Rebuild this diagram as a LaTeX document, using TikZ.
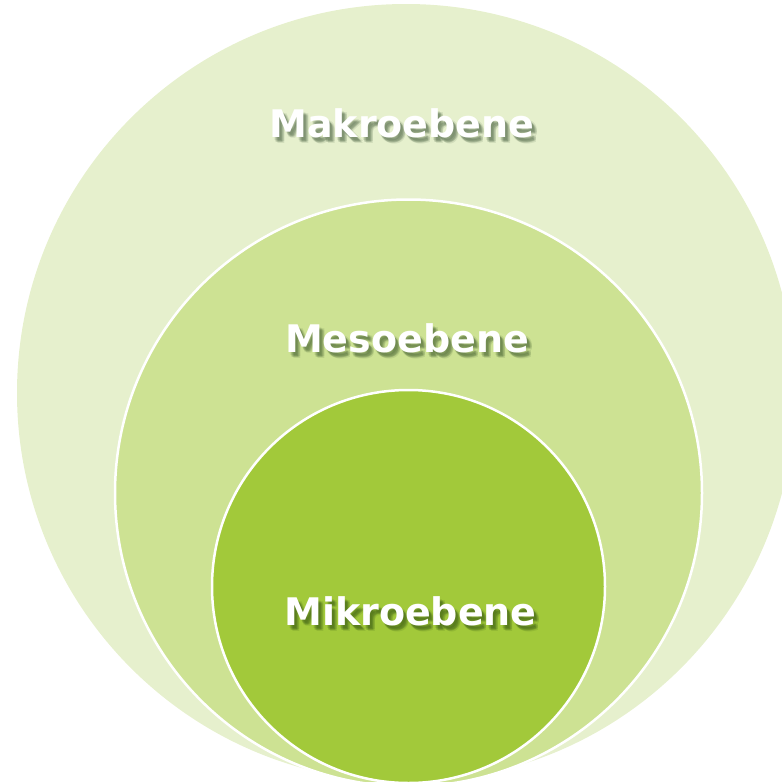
\documentclass[tikz,border=0pt]{standalone}
\usepackage{fontspec}
\newfontfamily\labfont{DejaVu Sans}[BoldFont={DejaVu Sans Bold}]
\definecolor{outerc}{HTML}{E6F0CD}
\definecolor{midc}{HTML}{CDE293}
\definecolor{innerc}{HTML}{A2C93A}
\newcommand{\lvltext}[1]{{\fontsize{38}{38}\labfont\bfseries #1}}
\tikzset{
  lvl/.style={anchor=base, inner sep=0pt, text=white},
  shad/.style={anchor=base, inner sep=0pt, text=black!60!green!30!black, opacity=0.09},
}
\begin{document}
\begin{tikzpicture}[x=1pt,y=-1pt]
\useasboundingbox (0,0) rectangle (782,782);
\clip (0,0) rectangle (782,782);
\fill[outerc] (406,393) circle[radius=389];
\draw[white, line width=2.5pt, fill=midc] (408.5,493) circle[radius=293.5];
\draw[white, line width=2.5pt, fill=innerc] (408.5,586.5) circle[radius=196.5];
\foreach \dx/\dy in {2/3,3/4,4/5,5/6,3/5,5/4} {
  \node[shad] (s1) at (402+\dx,137+\dy) {\lvltext{Makroebene}};
  \node[shad] (s2) at (407+\dx,352+\dy) {\lvltext{Mesoebene}};
  \node[shad] (s3) at (410.5+\dx,625+\dy) {\lvltext{Mikroebene}};
}
\node[lvl] (mak) at (402,137) {\lvltext{Makroebene}};
\node[lvl] (mes) at (407,352) {\lvltext{Mesoebene}};
\node[lvl] (mik) at (410.5,625) {\lvltext{Mikroebene}};
\end{tikzpicture}
\end{document}
